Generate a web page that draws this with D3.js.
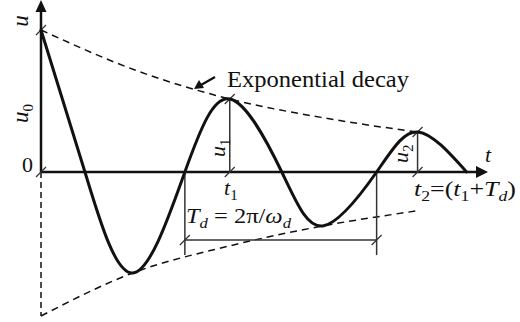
<!DOCTYPE html>
<html>
<head>
<meta charset="utf-8">
<script src="https://cdn.jsdelivr.net/npm/d3@7/dist/d3.min.js"></script>
<style>
  html, body { margin: 0; padding: 0; background: #fff; }
  svg { display: block; }
</style>
</head>
<body>
<svg id="chart" width="520" height="322"></svg>
<script>
// Damped free vibration: key points of the response (time t, displacement u)
const respT = [0, 0.234, 0.489, 0.766, 1.005, 1.282, 1.50, 1.787, 2.005, 2.266];
const respU = [1.0, 0, -0.711, 0, 0.514, 0, -0.380, 0, 0.282, 0];

// Exponential decay envelopes (upper and lower)
const envUpperT = [0, 0.50, 1.005, 1.51, 2.0];
const envUpperU = [1.0, 0.718, 0.514, 0.380, 0.282];
const envLowerT = [0, 0.489, 1.005, 1.50, 1.995];
const envLowerU = [-1.014, -0.711, -0.520, -0.380, -0.275];

// Marked instants and amplitudes
const peakT = [1.005, 2.005];      // t1, t2
const peakU = [0.514, 0.282];      // u1, u2
const periodT = [0.766, 1.787];    // ends of the Td dimension
const periodLineU = -0.479;        // level of the Td dimension line
const periodExtU = -0.585;         // end of its extension lines

const serif = "'Liberation Serif', Tinos, 'Times New Roman', 'DejaVu Serif', serif";

const svg = d3.select("#chart");

const x = d3.scaleLinear().domain([0, 2.38]).range([41, 488]);
const y = d3.scaleLinear().domain([-1.014, 1.211]).range([316, 0]);

const ink = "#111";
const thin = "#333";

function slash(px, py) {
  svg.append("line")
    .attr("x1", px - 5).attr("y1", py + 5)
    .attr("x2", px + 5).attr("y2", py - 5)
    .attr("stroke", thin).attr("stroke-width", 1.3);
}

// dashed continuation of the u axis below t = 0
svg.append("line")
  .attr("x1", x(0)).attr("y1", y(0))
  .attr("x2", x(0)).attr("y2", y(-1.014))
  .attr("stroke", ink).attr("stroke-width", 1.5)
  .attr("stroke-dasharray", "6,4");

// envelopes
const envLine = d3.line().x(d => x(d[0])).y(d => y(d[1])).curve(d3.curveMonotoneX);
svg.append("path")
  .attr("d", envLine(d3.zip(envUpperT, envUpperU)))
  .attr("fill", "none").attr("stroke", ink).attr("stroke-width", 1.5)
  .attr("stroke-dasharray", "7,5");
svg.append("path")
  .attr("d", envLine(d3.zip(envLowerT, envLowerU)))
  .attr("fill", "none").attr("stroke", ink).attr("stroke-width", 1.5)
  .attr("stroke-dasharray", "7,5");

// axes with arrowheads
svg.append("line")
  .attr("x1", x(0)).attr("y1", y(0))
  .attr("x2", x(2.33)).attr("y2", y(0))
  .attr("stroke", ink).attr("stroke-width", 2.5);
svg.append("path")
  .attr("d", `M${x(2.38)},${y(0)} L${x(2.38) - 12},${y(0) - 6} L${x(2.38) - 12},${y(0) + 6} Z`)
  .attr("fill", ink);
svg.append("line")
  .attr("x1", x(0)).attr("y1", y(0))
  .attr("x2", x(0)).attr("y2", y(1.15))
  .attr("stroke", ink).attr("stroke-width", 2.5);
svg.append("path")
  .attr("d", `M${x(0)},${y(1.211)} L${x(0) - 5.5},${y(1.211) + 12} L${x(0) + 5.5},${y(1.211) + 12} Z`)
  .attr("fill", ink);

// amplitude markers u1, u2
peakT.forEach((t, i) => {
  svg.append("line")
    .attr("x1", x(t)).attr("y1", y(0))
    .attr("x2", x(t)).attr("y2", y(peakU[i]))
    .attr("stroke", thin).attr("stroke-width", 1.5);
  slash(x(t), y(0));
  slash(x(t), y(peakU[i]));
});

// period dimension
periodT.forEach(t => {
  svg.append("line")
    .attr("x1", x(t)).attr("y1", y(0))
    .attr("x2", x(t)).attr("y2", y(periodExtU))
    .attr("stroke", thin).attr("stroke-width", 1.5);
  slash(x(t), y(periodLineU));
});
svg.append("line")
  .attr("x1", x(periodT[0])).attr("y1", y(periodLineU))
  .attr("x2", x(periodT[1])).attr("y2", y(periodLineU))
  .attr("stroke", thin).attr("stroke-width", 1.5);

slash(x(0), y(0));
slash(x(0), y(1.0));

// response curve
const respLine = d3.line().x(d => x(d[0])).y(d => y(d[1])).curve(d3.curveNatural);
svg.append("path")
  .attr("d", respLine(d3.zip(respT, respU)))
  .attr("fill", "none").attr("stroke", ink).attr("stroke-width", 3)
  .attr("stroke-linejoin", "round").attr("stroke-linecap", "round");

// annotation arrow
svg.append("line")
  .attr("x1", 215).attr("y1", 77).attr("x2", 201).attr("y2", 85)
  .attr("stroke", ink).attr("stroke-width", 2.2);
svg.append("path")
  .attr("d", "M194,89 L199,80 L204,88 Z")
  .attr("fill", ink);

// labels
function label(px, py, parts, opts = {}) {
  const t = svg.append("text")
    .attr("x", px).attr("y", py)
    .attr("font-family", serif)
    .attr("fill", ink)
    .attr("font-size", opts.size || 22)
    .attr("text-anchor", opts.anchor || "start");
  if (opts.rotate) t.attr("transform", `rotate(${opts.rotate},${px},${py})`);
  if (opts.width) t.attr("textLength", opts.width).attr("lengthAdjust", "spacingAndGlyphs");
  let shift = 0;
  parts.forEach(p => {
    const s = t.append("tspan").text(p.text);
    if (p.italic) s.attr("font-style", "italic");
    if (p.sub) { s.attr("font-size", 15).attr("dy", 5 - shift); shift = 5; }
    else if (shift) { s.attr("dy", -shift); shift = 0; }
  });
  return t;
}

label(227, 87, [{ text: "Exponential decay" }], { size: 23, width: 182 });
label(28, 21, [{ text: "u", italic: true }], { rotate: -90, anchor: "middle", size: 23 });
label(28, 123, [{ text: "u", italic: true }, { text: "0", sub: true }], { rotate: -90, size: 23 });
label(22, 172, [{ text: "0" }]);
label(225, 157, [{ text: "u", italic: true }, { text: "1", sub: true }], { rotate: -90 });
label(408, 163, [{ text: "u", italic: true }, { text: "2", sub: true }], { rotate: -90 });
label(224, 195, [{ text: "t", italic: true }, { text: "1", sub: true }]);
label(485, 162, [{ text: "t", italic: true }]);
label(186, 223, [{ text: "T", italic: true }, { text: "d", italic: true, sub: true },
  { text: " = 2π/" }, { text: "ω", italic: true }, { text: "d", italic: true, sub: true }],
  { width: 105 });
label(414, 196, [{ text: "t", italic: true }, { text: "2", sub: true }, { text: "=(" },
  { text: "t", italic: true }, { text: "1", sub: true }, { text: "+" },
  { text: "T", italic: true }, { text: "d", italic: true, sub: true }, { text: ")" }],
  { width: 102 });
</script>
</body>
</html>
